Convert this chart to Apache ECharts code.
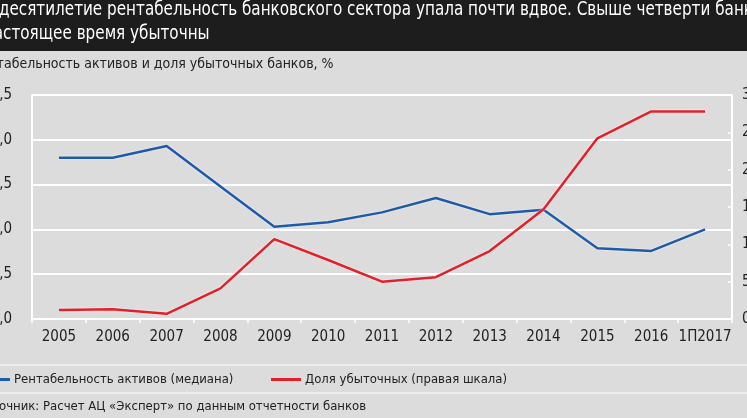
<!DOCTYPE html>
<html>
<head>
<meta charset="utf-8">
<script src="https://cdn.jsdelivr.net/npm/echarts@6/dist/echarts.min.js"></script>
<style>
  html, body { margin: 0; padding: 0; background: #dcdcdc; }
  #chart { width: 747px; height: 418px; }
</style>
</head>
<body>
<div id="chart"></div>
<script>
  // данные
  const years = ['2005', '2006', '2007', '2008', '2009', '2010', '2011', '2012', '2013', '2014', '2015', '2016', '1П2017'];
  const roaMedian = [1.80, 1.80, 1.93, 1.48, 1.03, 1.08, 1.19, 1.35, 1.17, 1.22, 0.79, 0.76, 1.00];
  const lossShare = [1.2, 1.3, 0.7, 4.1, 10.7, 7.9, 5.0, 5.6, 9.1, 14.7, 24.2, 27.8, 27.8];

  const nameRoa = 'Рентабельность активов (медиана)';
  const nameLoss = 'Доля убыточных (правая шкала)';

  const font = '"DejaVu Sans Condensed", "Liberation Sans Narrow", sans-serif';
  const blue = '#1f5aa8';
  const red = '#e2202b';

  let myChart = echarts.init(document.getElementById('chart'));

  let option = {
    backgroundColor: '#dcdcdc',
    textStyle: { fontFamily: font },
    graphic: [
      { type: 'rect', left: 0, top: 0, shape: { width: 747, height: 51 }, style: { fill: '#1d1d1d' }, silent: true },
      { type: 'line', shape: { x1: 0, y1: 365, x2: 747, y2: 365 }, style: { stroke: '#f2f2f2', lineWidth: 1.5 } },
      { type: 'line', shape: { x1: 0, y1: 393, x2: 747, y2: 393 }, style: { stroke: '#f2f2f2', lineWidth: 1.5 } },
      // заголовок (обрезан слева, как в оригинале)
      {
        type: 'text', x: -25, y: 1, scaleX: 0.89,
        style: {
          text: 'За десятилетие рентабельность банковского сектора упала почти вдвое. Свыше четверти банков',
          fill: '#ffffff', font: '19px ' + font
        }
      },
      {
        type: 'text', x: -30, y: 25, scaleX: 0.89,
        style: { text: 'в настоящее время убыточны', fill: '#ffffff', font: '19px ' + font }
      },
      {
        type: 'text', x: -27, y: 57,
        style: { text: 'Рентабельность активов и доля убыточных банков, %', fill: '#222', font: '14px ' + font }
      },
      {
        type: 'text', x: -23, y: 400,
        style: { text: 'Источник: Расчет АЦ «Эксперт» по данным отчетности банков', fill: '#222', font: '13px ' + font }
      }
    ],
    legend: [
      {
        data: [nameRoa], left: -20, top: 373, padding: 0,
        icon: 'rect', itemWidth: 30, itemHeight: 3,
        textStyle: { fontSize: 13, color: '#222', fontFamily: font, padding: [0, 0, 0, -1] }
      },
      {
        data: [nameLoss], left: 271, top: 373, padding: 0,
        icon: 'rect', itemWidth: 30, itemHeight: 3,
        textStyle: { fontSize: 13, color: '#222', fontFamily: font, padding: [0, 0, 0, -1] }
      }
    ],
    grid: { left: 32, right: 15, top: 95, bottom: 99, outerBoundsMode: 'none', containLabel: false },
    xAxis: {
      type: 'category',
      data: years,
      boundaryGap: true,
      axisLine: { lineStyle: { color: '#ffffff', width: 2 } },
      axisTick: { show: true, length: 4, lineStyle: { color: '#ffffff', width: 1.5 } },
      axisLabel: { color: '#222', fontSize: 15, margin: 11, interval: 0, fontFamily: font }
    },
    yAxis: [
      {
        type: 'value', min: 0, max: 2.5, interval: 0.5, position: 'left',
        axisLine: { show: true, lineStyle: { color: '#ffffff', width: 2 } },
        axisTick: { show: false },
        splitLine: { lineStyle: { color: '#ffffff', width: 2 } },
        axisLabel: {
          color: '#222', fontSize: 15, margin: 20, fontFamily: font,
          formatter: v => v.toFixed(1).replace('.', ',')
        }
      },
      {
        type: 'value', min: 0, max: 30, interval: 5, position: 'right',
        axisLine: { show: true, lineStyle: { color: '#ffffff', width: 2 } },
        axisTick: { show: true, inside: true, length: 4, lineStyle: { color: '#ffffff', width: 1.5 } },
        splitLine: { show: false },
        axisLabel: { color: '#222', fontSize: 15, margin: 10, fontFamily: font }
      }
    ],
    series: [
      {
        name: nameRoa, type: 'line', yAxisIndex: 0, data: roaMedian,
        symbol: 'none', itemStyle: { color: blue },
        lineStyle: { color: blue, width: 2.5, shadowColor: 'rgba(255,255,255,0.9)', shadowBlur: 2 }
      },
      {
        name: nameLoss, type: 'line', yAxisIndex: 1, data: lossShare,
        symbol: 'none', itemStyle: { color: red },
        lineStyle: { color: red, width: 2.5, shadowColor: 'rgba(255,255,255,0.9)', shadowBlur: 2 }
      }
    ]
  };

  myChart.setOption(option);
</script>
</body>
</html>
